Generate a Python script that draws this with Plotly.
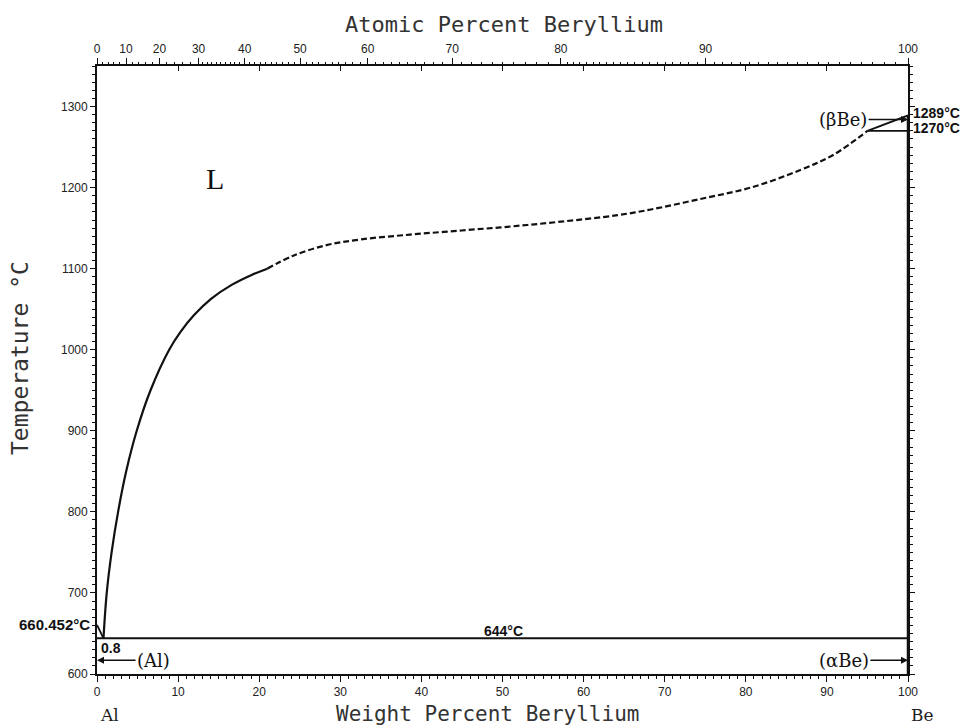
import numpy as np
import plotly.graph_objects as go

# ---- data (weight percent Be, temperature in C) ----
liq_solid_w = [0.8, 1.2, 1.8, 2.6, 3.6, 4.9, 6.6, 8.9, 10.3, 12.0, 14.1, 16.6, 19.0, 21.0]
liq_solid_t = [644, 700, 750, 800, 850, 900, 950, 1000, 1022, 1043, 1063, 1080, 1092, 1100]
liq_dash_w = [21.0, 24.2, 28.3, 32.5, 38.6, 44.8, 51.0, 57.2, 64.2, 68.3, 74.4, 80.6, 86.8, 90.9, 95.0]
liq_dash_t = [1100, 1116, 1129, 1136, 1142, 1147, 1152, 1158, 1166, 1173, 1186, 1200, 1222, 1241, 1270]
al_liq_w = [0, 0.8]
al_liq_t = [660.452, 644]
be_liq_w = [95.0, 100]
be_liq_t = [1270, 1289]
eut_w = [0, 100]
eut_t = [644, 644]
iso1270_w = [95.0, 100]
iso1270_t = [1270, 1270]
be_solvus_w = [100, 100]
be_solvus_t = [600, 1289]

at_major = [0, 10, 20, 30, 40, 50, 60, 70, 80, 90, 100]
at_major_labels = [str(v) for v in at_major]
at_minor = list(range(0, 30, 2)) + list(range(30, 80, 1)) + [80 + 0.5 * i for i in range(41)]

M_BE = 9.012
M_AL = 26.982


def at_to_wt(a):
    a = np.asarray(a, dtype=float)
    return 100 * a * M_BE / (a * M_BE + (100 - a) * M_AL)


BLACK = "#111"
TICKFONT = dict(family="Liberation Sans", size=12, color="#222")
MONO = "DejaVu Sans Mono"
SERIF = "DejaVu Serif"

fig = go.Figure()


def line(x, y, dash="solid", width=2.0, shape="linear"):
    fig.add_trace(go.Scatter(x=x, y=y, mode="lines",
                             line=dict(color=BLACK, width=width, dash=dash, shape=shape),
                             showlegend=False, hoverinfo="skip"))


line(al_liq_w, al_liq_t, width=1.8)
line(liq_solid_w, liq_solid_t, width=2.2, shape="spline")
line(liq_dash_w, liq_dash_t, dash="6px,3px", width=2.2, shape="spline")
line(be_liq_w, be_liq_t, width=1.8)
line(iso1270_w, iso1270_t, width=1.8)
line(eut_w, eut_t, width=2.0)
line(be_solvus_w, be_solvus_t, width=2.5)

# dummy traces so the top axes render
fig.add_trace(go.Scatter(x=[None], y=[None], xaxis="x2", showlegend=False, hoverinfo="skip"))
fig.add_trace(go.Scatter(x=[None], y=[None], xaxis="x3", showlegend=False, hoverinfo="skip"))

fig.update_layout(
    width=967, height=727,
    margin=dict(l=97, r=59, t=66, b=53),
    paper_bgcolor="white", plot_bgcolor="white",
    showlegend=False,
    xaxis=dict(range=[0, 100], showgrid=False, zeroline=False,
               showline=True, linecolor=BLACK, linewidth=1.8, mirror=True,
               ticks="outside", tickmode="array", tickvals=list(range(0, 101, 10)),
               ticklen=6, tickwidth=1.2, tickcolor=BLACK, tickfont=TICKFONT,
               minor=dict(dtick=1, tick0=0, ticklen=3, tickwidth=1, tickcolor=BLACK, ticks="outside")),
    xaxis2=dict(range=[0, 100], overlaying="x", side="top", anchor="y",
                showgrid=False, zeroline=False, showline=False,
                ticks="outside", tickmode="array",
                tickvals=list(at_to_wt(at_major)), ticktext=at_major_labels,
                ticklen=7, tickwidth=1.2, tickcolor=BLACK, tickfont=TICKFONT,
                minor=dict(tickmode="array", tickvals=list(at_to_wt(at_minor)),
                           ticklen=3, tickwidth=1, tickcolor=BLACK, ticks="outside")),
    xaxis3=dict(range=[0, 100], overlaying="x", side="top", anchor="y",
                showgrid=False, zeroline=False, showline=False,
                ticks="inside", tickmode="array", tickvals=list(range(10, 100, 10)),
                ticklen=5, tickwidth=1.2, tickcolor=BLACK, showticklabels=False),
    yaxis=dict(range=[600, 1350], showgrid=False, zeroline=False,
               showline=True, linecolor=BLACK, linewidth=1.8, mirror="ticks",
               ticks="outside", tickmode="array", tickvals=list(range(600, 1301, 100)),
               ticklen=5, tickwidth=1.2, tickcolor=BLACK, tickfont=TICKFONT,
               minor=dict(dtick=10, tick0=600, ticklen=3, tickwidth=1, tickcolor=BLACK, ticks="outside")),
)

ann = []
# axis titles
ann.append(dict(text="Atomic Percent Beryllium", xref="paper", yref="paper", x=0.5, y=1,
                xanchor="center", yanchor="middle", yshift=42, xshift=1, showarrow=False,
                font=dict(family=MONO, size=22, color="#333")))
ann.append(dict(text="Weight Percent Beryllium", xref="paper", yref="paper", x=0.5, y=0,
                xanchor="center", yanchor="middle", yshift=-40, xshift=-15, showarrow=False,
                font=dict(family=MONO, size=21, color="#333")))
ann.append(dict(text="Temperature °C", xref="paper", yref="paper", x=0, y=0.5,
                xanchor="center", yanchor="middle",
                xshift=-77, yshift=12, textangle=-90, showarrow=False,
                font=dict(family=MONO, size=23, color="#333")))
ann.append(dict(text="Al", xref="x", yref="paper", x=1.6, y=0, xanchor="center", yanchor="middle",
                yshift=-41, showarrow=False,
                font=dict(family=SERIF, size=17, color="#222")))
ann.append(dict(text="Be", xref="x", yref="paper", x=100, y=0, xanchor="center", yanchor="middle",
                xshift=14, yshift=-41, showarrow=False,
                font=dict(family=SERIF, size=17, color="#222")))
ann.append(dict(text="L", xref="x", yref="y", x=14.6, y=1211, showarrow=False,
                font=dict(family="Liberation Serif", size=30, color="#111")))

small_bold = dict(family="Liberation Sans", size=14, color="#111")
ann.append(dict(text="<b>660.452°C</b>", xref="x", yref="y", x=0, y=661, xanchor="right",
                xshift=-5, showarrow=False, font=dict(family="Liberation Sans", size=15, color="#111")))
ann.append(dict(text="<b>0.8</b>", xref="x", yref="y", x=0.3, y=632, xanchor="left",
                showarrow=False, font=small_bold))
ann.append(dict(text="<b>644°C</b>", xref="x", yref="y", x=50.1, y=653, showarrow=False,
                font=small_bold))
ann.append(dict(text="<b>1289°C</b>", xref="x", yref="y", x=100, y=1292, xanchor="left",
                xshift=3, showarrow=False, font=small_bold))
ann.append(dict(text="<b>1270°C</b>", xref="x", yref="y", x=100, y=1274, xanchor="left",
                xshift=3, showarrow=False, font=small_bold))

label_font = dict(family=SERIF, size=18, color="#111")
for txt, tx, ty, px, py in [("(Al)", 6.97, 617, 0, 617),
                            ("(αBe)", 92.1, 617, 100, 617),
                            ("(βBe)", 92.0, 1284, 100, 1284)]:
    ann.append(dict(text=txt, x=px, y=py, ax=tx, ay=ty, xref="x", yref="y",
                    axref="x", ayref="y", showarrow=True, arrowhead=2, arrowsize=1,
                    arrowwidth=1.4, arrowcolor=BLACK, standoff=0, font=label_font))

fig.update_layout(annotations=ann)
fig.write_html("out.html")
